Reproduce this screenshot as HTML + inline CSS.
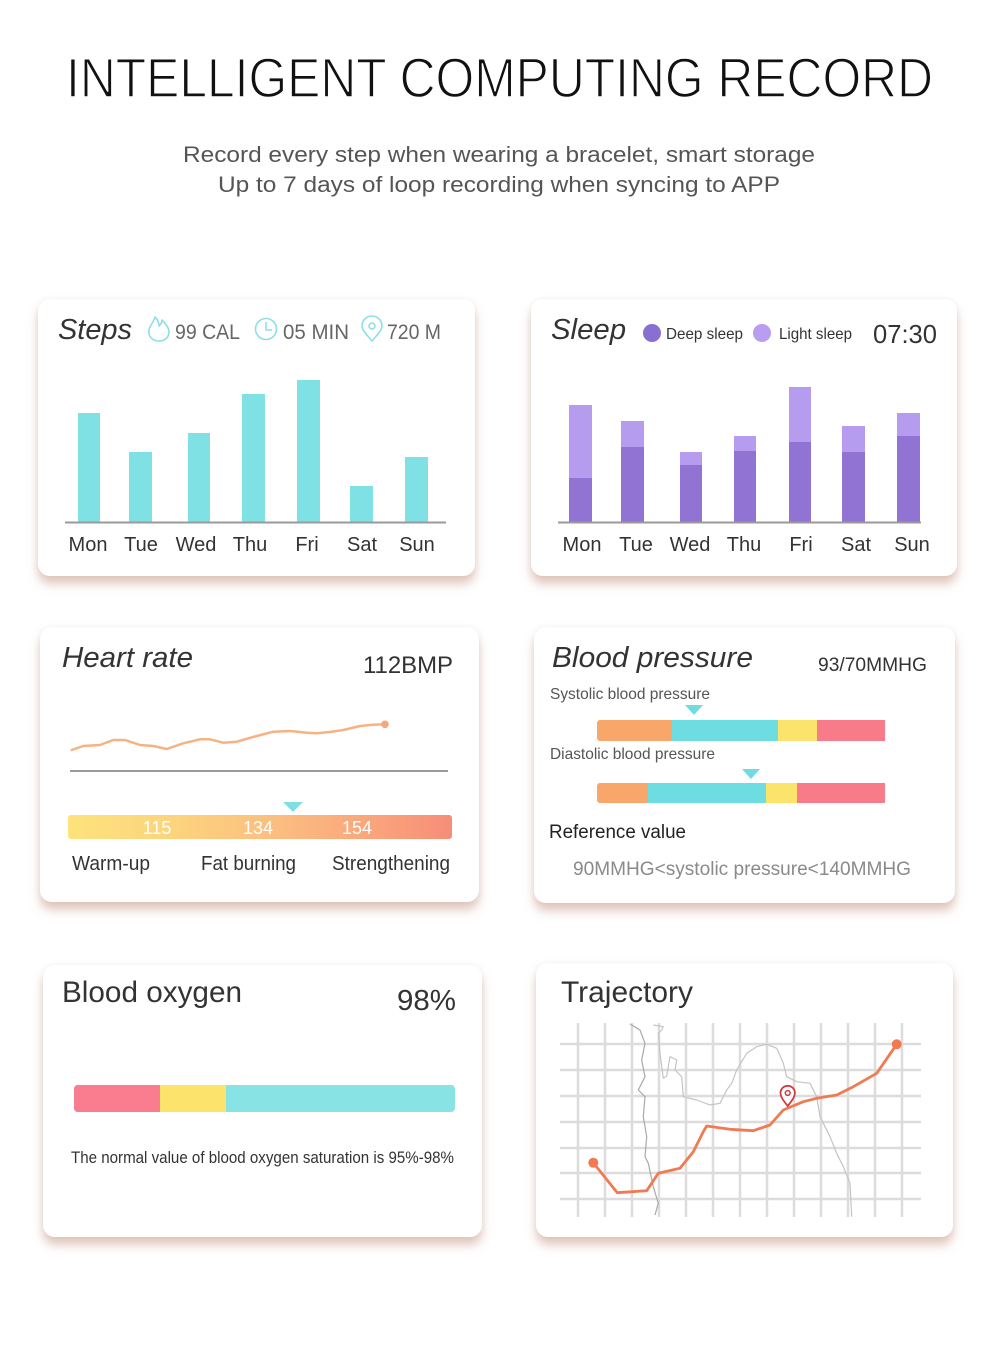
<!DOCTYPE html>
<html>
<head>
<meta charset="utf-8">
<style>
  html,body{margin:0;padding:0;background:#fff;}
  svg{display:block;}
  text{font-family:"Liberation Sans",Arial,sans-serif;}
</style>
</head>
<body>
<svg width="1000" height="1348" viewBox="0 0 1000 1348" xmlns="http://www.w3.org/2000/svg">
  <defs>
    <filter id="sh" x="-10%" y="-10%" width="120%" height="130%">
      <feGaussianBlur in="SourceAlpha" stdDeviation="5" result="b"/>
      <feOffset in="b" dx="0" dy="8" result="o"/>
      <feFlood flood-color="#c99a88" flood-opacity="0.55"/>
      <feComposite in2="o" operator="in" result="s"/>
      <feGaussianBlur in="SourceAlpha" stdDeviation="3" result="b2"/>
      <feFlood flood-color="#000" flood-opacity="0.06"/>
      <feComposite in2="b2" operator="in" result="s2"/>
      <feMerge><feMergeNode in="s"/><feMergeNode in="s2"/><feMergeNode in="SourceGraphic"/></feMerge>
    </filter>
    <linearGradient id="hg" x1="0" x2="1" y1="0" y2="0">
      <stop offset="0" stop-color="#fde37c"/>
      <stop offset="0.3" stop-color="#fcd27e"/>
      <stop offset="0.55" stop-color="#fbbd80"/>
      <stop offset="0.8" stop-color="#f9a47b"/>
      <stop offset="1" stop-color="#f78d79"/>
    </linearGradient>
  </defs>

  <!-- Header -->
  <text x="66" y="97" font-size="56" fill="#111" textLength="867" lengthAdjust="spacingAndGlyphs" stroke="#fff" stroke-width="1.4">INTELLIGENT COMPUTING RECORD</text>
  <text x="183" y="162" font-size="22.5" fill="#555" textLength="632" lengthAdjust="spacingAndGlyphs">Record every step when wearing a bracelet, smart storage</text>
  <text x="218" y="192" font-size="22.5" fill="#555" textLength="562" lengthAdjust="spacingAndGlyphs">Up to 7 days of loop recording when syncing to APP</text>

  <!-- Cards -->
  <g filter="url(#sh)" fill="#fff">
    <rect x="38" y="299" width="437" height="277" rx="12"/>
    <rect x="531" y="299" width="426" height="277" rx="12"/>
    <rect x="40" y="627" width="439" height="275" rx="12"/>
    <rect x="534" y="627" width="421" height="276" rx="12"/>
    <rect x="43" y="965" width="439" height="272" rx="12"/>
    <rect x="536" y="963" width="417" height="274" rx="12"/>
  </g>

  <!-- Steps card -->
  <text x="58" y="339" font-size="29" font-style="italic" fill="#333" textLength="74" lengthAdjust="spacingAndGlyphs">Steps</text>
  <g fill="none" stroke="#8ddfe6" stroke-width="1.6" stroke-linejoin="round">
    <path d="M159,341 c-7,0 -11,-5 -10,-11 c1,-5 5,-8 6,-13 c3,3 4,6 4,9 c2,-2 3,-4 3,-6 c4,4 7,8 7,12 c0,5 -4,9 -10,9 z"/>
    <circle cx="266" cy="329" r="10.5"/>
    <path d="M266,322 V330 H272"/>
    <path d="M372,341 C366,334 362,330 362,326 a10,10 0 1 1 20,0 c0,4 -4,8 -10,15z"/>
    <circle cx="372" cy="326" r="3"/>
  </g>
  <g font-size="21" fill="#666">
    <text x="175" y="339" textLength="65" lengthAdjust="spacingAndGlyphs">99 CAL</text>
    <text x="283" y="339" textLength="66" lengthAdjust="spacingAndGlyphs">05 MIN</text>
    <text x="387" y="339" textLength="54" lengthAdjust="spacingAndGlyphs">720 M</text>
  </g>
  <g fill="#80e1e4">
    <rect x="78" y="413" width="22" height="109"/>
    <rect x="129" y="452" width="23" height="70"/>
    <rect x="188" y="433" width="22" height="89"/>
    <rect x="242" y="394" width="23" height="128"/>
    <rect x="297" y="380" width="23" height="142"/>
    <rect x="350" y="486" width="23" height="36"/>
    <rect x="405" y="457" width="23" height="65"/>
  </g>
  <line x1="65" y1="522.5" x2="446" y2="522.5" stroke="#9a9a9a" stroke-width="2"/>
  <g font-size="20" fill="#333" text-anchor="middle">
    <text x="88" y="551">Mon</text>
    <text x="141" y="551">Tue</text>
    <text x="196" y="551">Wed</text>
    <text x="250" y="551">Thu</text>
    <text x="307" y="551">Fri</text>
    <text x="362" y="551">Sat</text>
    <text x="417" y="551">Sun</text>
  </g>

  <!-- Sleep card -->
  <text x="551" y="339" font-size="29" font-style="italic" fill="#333" textLength="75" lengthAdjust="spacingAndGlyphs">Sleep</text>
  <circle cx="652" cy="333" r="9" fill="#8a6fd3"/>
  <text x="666" y="339" font-size="16" fill="#333" textLength="77" lengthAdjust="spacingAndGlyphs">Deep sleep</text>
  <circle cx="762" cy="333" r="9" fill="#b89df0"/>
  <text x="779" y="339" font-size="16" fill="#333" textLength="73" lengthAdjust="spacingAndGlyphs">Light sleep</text>
  <text x="873" y="343" font-size="26" fill="#333" textLength="64" lengthAdjust="spacingAndGlyphs">07:30</text>
  <g fill="#b59cee">
    <rect x="569" y="405" width="23" height="117"/>
    <rect x="621" y="421" width="23" height="101"/>
    <rect x="680" y="452" width="22" height="70"/>
    <rect x="734" y="436" width="22" height="86"/>
    <rect x="789" y="387" width="22" height="135"/>
    <rect x="842" y="426" width="23" height="96"/>
    <rect x="897" y="413" width="23" height="109"/>
  </g>
  <g fill="#9173d4">
    <rect x="569" y="478" width="23" height="44"/>
    <rect x="621" y="447" width="23" height="75"/>
    <rect x="680" y="465" width="22" height="57"/>
    <rect x="734" y="451" width="22" height="71"/>
    <rect x="789" y="442" width="22" height="80"/>
    <rect x="842" y="452" width="23" height="70"/>
    <rect x="897" y="436" width="23" height="86"/>
  </g>
  <line x1="558" y1="522.5" x2="921" y2="522.5" stroke="#9a9a9a" stroke-width="2"/>
  <g font-size="20" fill="#333" text-anchor="middle">
    <text x="582" y="551">Mon</text>
    <text x="636" y="551">Tue</text>
    <text x="690" y="551">Wed</text>
    <text x="744" y="551">Thu</text>
    <text x="801" y="551">Fri</text>
    <text x="856" y="551">Sat</text>
    <text x="912" y="551">Sun</text>
  </g>

  <!-- Heart rate card -->
  <text x="62" y="667" font-size="29" font-style="italic" fill="#333" textLength="131" lengthAdjust="spacingAndGlyphs">Heart rate</text>
  <text x="363" y="673" font-size="24" fill="#333" textLength="90" lengthAdjust="spacingAndGlyphs">112BMP</text>
  <polyline fill="none" stroke="#f7b283" stroke-width="2.5" stroke-linejoin="round" stroke-linecap="round"
    points="71.7,750 83.3,746 100,745 113.3,740 125,740 140,745 153.3,746 166.7,749 183.3,743.3 200,739.3 210,739.3 223.3,742.7 236.7,741.7 256.7,736 273.3,731.7 290,731 306.7,732.7 316.7,733.3 330,732 343.3,730 360,726 373.3,724.7 385,724.3"/>
  <circle cx="385" cy="724.3" r="3.8" fill="#f4a67c"/>
  <line x1="70" y1="771" x2="448" y2="771" stroke="#9a9a9a" stroke-width="2"/>
  <polygon points="283,802 303,802 293,812" fill="#7edfe5"/>
  <rect x="68" y="815" width="384" height="24" rx="3" fill="url(#hg)"/>
  <g font-size="18" fill="#fff" text-anchor="middle">
    <text x="157" y="834">115</text>
    <text x="258" y="834">134</text>
    <text x="357" y="834">154</text>
  </g>
  <g font-size="20" fill="#333">
    <text x="72" y="870" textLength="78" lengthAdjust="spacingAndGlyphs">Warm-up</text>
    <text x="201" y="870" textLength="95" lengthAdjust="spacingAndGlyphs">Fat burning</text>
    <text x="332" y="870" textLength="118" lengthAdjust="spacingAndGlyphs">Strengthening</text>
  </g>

  <!-- Blood pressure card -->
  <text x="552" y="667" font-size="29" font-style="italic" fill="#333" textLength="201" lengthAdjust="spacingAndGlyphs">Blood pressure</text>
  <text x="818" y="671" font-size="19.5" fill="#333" textLength="109" lengthAdjust="spacingAndGlyphs">93/70MMHG</text>
  <text x="550" y="699" font-size="16" fill="#555" textLength="160" lengthAdjust="spacingAndGlyphs">Systolic blood  pressure</text>
  <polygon points="685,705 703,705 694,715" fill="#6fdbe2"/>
  <rect x="597" y="720" width="288" height="21" rx="3" fill="#f9a66b"/>
  <rect x="672" y="720" width="106" height="21" fill="#6edde1"/>
  <rect x="778" y="720" width="39" height="21" fill="#fbe36c"/>
  <rect x="817" y="720" width="68" height="21" fill="#f87b8a"/>
  <text x="550" y="759" font-size="16" fill="#555" textLength="165" lengthAdjust="spacingAndGlyphs">Diastolic blood  pressure</text>
  <polygon points="742,769 760,769 751,779" fill="#6fdbe2"/>
  <rect x="597" y="783" width="288" height="20" rx="3" fill="#f9a66b"/>
  <rect x="648" y="783" width="118" height="20" fill="#6edde1"/>
  <rect x="766" y="783" width="31" height="20" fill="#fbe36c"/>
  <rect x="797" y="783" width="88" height="20" fill="#f87b8a"/>
  <text x="549" y="838" font-size="19" fill="#222" textLength="137" lengthAdjust="spacingAndGlyphs">Reference value</text>
  <text x="573" y="875" font-size="19" fill="#8a8a8a" textLength="338" lengthAdjust="spacingAndGlyphs">90MMHG&lt;systolic pressure&lt;140MMHG</text>

  <!-- Blood oxygen card -->
  <text x="62" y="1002" font-size="30" fill="#333" textLength="180" lengthAdjust="spacingAndGlyphs">Blood oxygen</text>
  <text x="397" y="1010" font-size="29" fill="#333" textLength="59" lengthAdjust="spacingAndGlyphs">98%</text>
  <rect x="74" y="1085" width="381" height="27" rx="4" fill="#88e3e4"/>
  <rect x="74" y="1085" width="90" height="27" rx="4" fill="#f97d8f"/>
  <rect x="160" y="1085" width="66" height="27" fill="#fbe36c"/>
  <text x="71" y="1163" font-size="16.5" fill="#333" textLength="383" lengthAdjust="spacingAndGlyphs">The normal value of blood oxygen saturation is 95%-98%</text>

  <!-- Trajectory card -->
  <text x="561" y="1002" font-size="30" fill="#333" textLength="132" lengthAdjust="spacingAndGlyphs">Trajectory</text>
  <g stroke="#dcdcdc" stroke-width="2.5">
    <line x1="578" y1="1023" x2="578" y2="1217"/>
    <line x1="605" y1="1023" x2="605" y2="1217"/>
    <line x1="632" y1="1023" x2="632" y2="1217"/>
    <line x1="659" y1="1023" x2="659" y2="1217"/>
    <line x1="686" y1="1023" x2="686" y2="1217"/>
    <line x1="713" y1="1023" x2="713" y2="1217"/>
    <line x1="740" y1="1023" x2="740" y2="1217"/>
    <line x1="767" y1="1023" x2="767" y2="1217"/>
    <line x1="794" y1="1023" x2="794" y2="1217"/>
    <line x1="821" y1="1023" x2="821" y2="1217"/>
    <line x1="848" y1="1023" x2="848" y2="1217"/>
    <line x1="875" y1="1023" x2="875" y2="1217"/>
    <line x1="902" y1="1023" x2="902" y2="1217"/>
    <line x1="560" y1="1044" x2="921" y2="1044"/>
    <line x1="560" y1="1070" x2="921" y2="1070"/>
    <line x1="560" y1="1096" x2="921" y2="1096"/>
    <line x1="560" y1="1122" x2="921" y2="1122"/>
    <line x1="560" y1="1148" x2="921" y2="1148"/>
    <line x1="560" y1="1173" x2="921" y2="1173"/>
    <line x1="560" y1="1199" x2="921" y2="1199"/>
  </g>
  <g fill="none" stroke="#a9a9a9" stroke-width="1.2" stroke-linejoin="round">
    <polyline points="630,1024 640,1030 645,1043.3 641.7,1060 645,1076.7 638.3,1090 645,1096.7 643.3,1116.7 646.7,1136.7 645,1156.7 648.3,1163.3 653.3,1186.7 658.3,1203.3 655,1215"/>
    <polyline stroke="#c4c4c4" points="653.3,1025 663.3,1026.7 661.7,1030 658.3,1033.3 660,1053.3 663.3,1078.3 666.7,1076 670,1056.7 676.7,1060 675,1070 681.7,1076.7 683.3,1096.7 696.7,1100 710,1105 720,1103.3 726.7,1090 731.7,1083.3 736.7,1070 746.7,1053.3 756.7,1046.7 766.7,1044.3 776.7,1048.3 783.3,1063.3 786.7,1076.7 796.7,1081.7 810,1083.3 816.7,1096.7 820,1116.7 830,1136.7 836.7,1153.3 843.3,1166.7 850,1183.3 851.7,1216.7"/>
  </g>
  <polyline fill="none" stroke="#f07a52" stroke-width="2.8" stroke-linejoin="round" stroke-linecap="round"
    points="593.3,1162.7 617.3,1192.7 646.7,1190.7 658.3,1173.3 680,1168.3 693.3,1151.7 703.3,1131.7 706.7,1126 730,1129.3 753.3,1130.7 770,1125 783.3,1110 803.3,1101.7 816.7,1098.3 836.7,1095 853.3,1086.7 876.7,1073.3 896.7,1044.3"/>
  <circle cx="593.3" cy="1162.7" r="5" fill="#f07a52"/>
  <circle cx="896.7" cy="1044.3" r="5" fill="#f07a52"/>
  <path d="M787.7,1106 C782,1099 780.5,1096 780.5,1093 a7.2,7.2 0 1 1 14.4,0 c0,3 -1.5,6 -7.2,13 z" fill="#fff" stroke="#d23a3f" stroke-width="1.8"/>
  <circle cx="787.7" cy="1093" r="2.4" fill="none" stroke="#d23a3f" stroke-width="1.5"/>
</svg>
</body>
</html>
